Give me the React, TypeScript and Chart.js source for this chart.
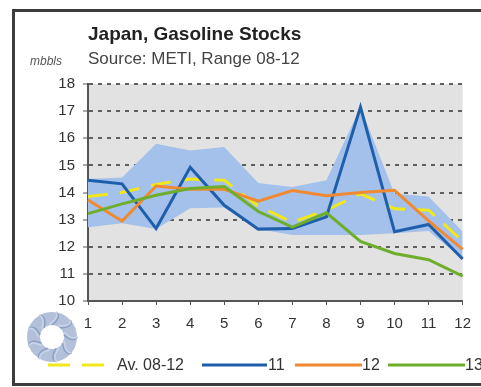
import React, { useEffect, useRef } from "react";
import { Chart, registerables } from "chart.js";

Chart.register(...registerables);

const months = ["1", "2", "3", "4", "5", "6", "7", "8", "9", "10", "11", "12"];
const seriesNames = ["Av. 08-12", "11", "12", "13"];
const avg0812 = [13.85, 14.0, 14.3, 14.5, 14.45, 13.5, 12.9, 13.35, 13.95, 13.4, 13.35, 12.2];
const stocks11 = [14.45, 14.32, 12.67, 14.93, 13.53, 12.65, 12.67, 13.1, 17.15, 12.55, 12.82, 11.55];
const stocks12 = [13.72, 12.95, 14.24, 14.12, 14.12, 13.68, 14.07, 13.88, 14.0, 14.08, 12.95, 11.9];
const stocks13 = [13.22, 13.58, 13.9, 14.15, 14.22, 13.3, 12.72, 13.25, 12.2, 11.75, 11.52, 10.92];
const rangeHigh = [14.5, 14.55, 15.8, 15.55, 15.68, 14.35, 14.2, 14.45, 17.15, 13.95, 13.85, 12.55];
const rangeLow = [12.72, 12.87, 12.65, 13.42, 13.45, 12.65, 12.43, 12.43, 12.43, 12.5, 12.58, 11.55];
const yMin = 10;
const yMax = 18;

const FONT = "'Liberation Sans', Arial, sans-serif";
const colors = {
  avg: "#f1e81c",
  s11: "#1f5eab",
  s12: "#f08a32",
  s13: "#6eae2c",
  band: "#a3c1ea",
  plot: "#e2e2e2",
};

const plotBg = {
  id: "plotBg",
  beforeDraw(chart: any) {
    const { ctx, chartArea: a } = chart;
    ctx.save();
    ctx.fillStyle = colors.plot;
    ctx.fillRect(a.left, a.top, a.right - a.left, a.bottom - a.top);
    ctx.restore();
  },
};

export default function App() {
  const ref = useRef<HTMLCanvasElement | null>(null);

  useEffect(() => {
    if (!ref.current) return;
    const chart = new Chart(ref.current, {
      type: "line",
      data: {
        labels: months,
        datasets: [
          {
            label: "high",
            data: rangeHigh,
            borderColor: "rgba(0,0,0,0)",
            borderWidth: 0,
            backgroundColor: colors.band,
            pointRadius: 0,
            fill: "+1",
            order: 10,
          },
          {
            label: "low",
            data: rangeLow,
            borderColor: "rgba(0,0,0,0)",
            borderWidth: 0,
            pointRadius: 0,
            fill: false,
            order: 11,
          },
          {
            label: seriesNames[0],
            data: avg0812,
            borderColor: colors.avg,
            borderWidth: 3,
            borderDash: [20, 12],
            pointRadius: 0,
            fill: false,
            order: 5,
          },
          {
            label: seriesNames[1],
            data: stocks11,
            borderColor: colors.s11,
            borderWidth: 3,
            pointRadius: 0,
            fill: false,
            order: 4,
          },
          {
            label: seriesNames[2],
            data: stocks12,
            borderColor: colors.s12,
            borderWidth: 3,
            pointRadius: 0,
            fill: false,
            order: 3,
          },
          {
            label: seriesNames[3],
            data: stocks13,
            borderColor: colors.s13,
            borderWidth: 3,
            pointRadius: 0,
            fill: false,
            order: 2,
          },
        ],
      },
      options: {
        responsive: false,
        animation: false,
        devicePixelRatio: 1,
        layout: { padding: { left: 40, right: 18, top: 84, bottom: 46 } },
        plugins: {
          legend: { display: false },
          tooltip: { enabled: false },
          title: { display: false },
        },
        elements: { line: { tension: 0, borderCapStyle: "butt", borderJoinStyle: "miter" } },
        scales: {
          x: {
            type: "category",
            offset: false,
            grid: {
              drawOnChartArea: false,
              drawTicks: true,
              tickLength: 4,
              color: "#555",
              lineWidth: 1,
            },
            border: { color: "#555", width: 2 },
            ticks: {
              font: { size: 15, family: FONT },
              color: "#333",
              padding: 10,
              maxRotation: 0,
              autoSkip: false,
            },
            afterFit(s: any) {
              s.height = 40;
            },
          },
          y: {
            min: yMin,
            max: yMax,
            grid: {
              color: "#5f5f5f",
              lineWidth: 2,
              tickLength: 5,
              tickColor: "#555",
              tickWidth: 1,
              tickBorderDash: [],
            },
            border: { color: "#555", width: 2, dash: [4, 5] },
            ticks: {
              stepSize: 1,
              font: { size: 15, family: FONT },
              color: "#333",
              padding: 8,
            },
            afterFit(s: any) {
              s.width = 48;
            },
          },
        },
      },
      plugins: [plotBg],
    } as any);
    return () => chart.destroy();
  }, []);

  const txt = (left: number, centerY: number, size: number, content: string, extra: any = {}) => (
    <div
      style={{
        position: "absolute",
        left,
        top: centerY - 10,
        height: 20,
        lineHeight: "20px",
        fontSize: size,
        fontFamily: FONT,
        color: "#333",
        whiteSpace: "nowrap",
        ...extra,
      }}
    >
      {content}
    </div>
  );

  const petals = Array.from({ length: 9 }, (_, i) => i * 40);
  const legendY = 365;

  return (
    <div
      style={{
        position: "fixed",
        left: 0,
        top: 0,
        width: 481,
        height: 387,
        overflow: "hidden",
        background: "#fff",
      }}
    >
      <div
        style={{
          position: "absolute",
          left: 12,
          top: 9,
          width: 490,
          height: 371,
          border: "3px solid #3c3c3c",
        }}
      />
      <canvas
        ref={ref}
        width={481}
        height={387}
        style={{ position: "absolute", left: 0, top: 0, width: 481, height: 387, display: "block" }}
      />
      {txt(88, 34, 19, "Japan, Gasoline Stocks", { fontWeight: "bold", color: "#222" })}
      {txt(88, 59, 17, "Source: METI, Range 08-12", { color: "#444" })}
      {txt(30, 61, 12, "mbbls", { color: "#555", fontStyle: "italic" })}
      <svg
        width={481}
        height={387}
        style={{ position: "absolute", left: 0, top: 0, pointerEvents: "none" }}
      >
        <g transform="translate(52,337)">
          <circle r={18.5} fill="none" stroke="#b2c1d9" strokeWidth={13} />
          {petals.map((a) => (
            <path
              key={a}
              d="M 0 -12 Q 10 -20 4 -25"
              transform={`rotate(${a})`}
              fill="none"
              stroke="#8299bf"
              strokeWidth={1.5}
              opacity={0.8}
            />
          ))}
          {petals.map((a) => (
            <path
              key={"b" + a}
              d="M 2 -13 Q 14 -16 12 -22"
              transform={`rotate(${a + 20})`}
              fill="none"
              stroke="#c9d4e6"
              strokeWidth={1.5}
            />
          ))}
        </g>
        <line x1={48} y1={legendY} x2={107} y2={legendY} stroke={colors.avg} strokeWidth={3} strokeDasharray="22 12" />
        <line x1={202} y1={legendY} x2={267} y2={legendY} stroke={colors.s11} strokeWidth={3} />
        <line x1={295} y1={legendY} x2={362} y2={legendY} stroke={colors.s12} strokeWidth={3} />
        <line x1={388} y1={legendY} x2={465} y2={legendY} stroke={colors.s13} strokeWidth={3} />
      </svg>
      {txt(117, legendY, 16, seriesNames[0])}
      {txt(268, legendY, 16, seriesNames[1])}
      {txt(362, legendY, 16, seriesNames[2])}
      {txt(465, legendY, 16, seriesNames[3])}
    </div>
  );
}
